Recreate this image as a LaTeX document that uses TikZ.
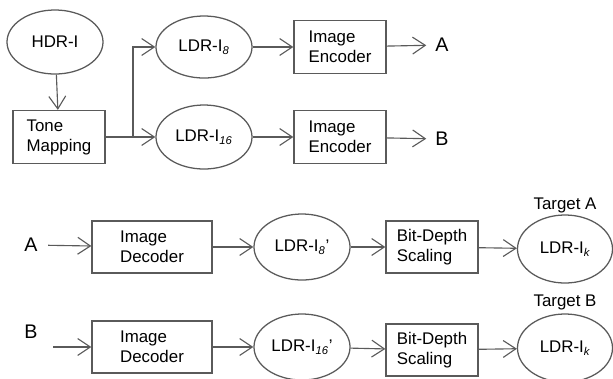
\documentclass[tikz,border=0pt]{standalone}
\usepackage{fontspec}
\setmainfont{Liberation Sans}
\usetikzlibrary{arrows.meta,positioning}
\usetikzlibrary{shapes.geometric}
\definecolor{linegray}{HTML}{5a5a5a}
\tikzset{
    x=0.025cm, y=-0.025cm, % one unit is one pixel of the layout
    >={Straight Barb[length=9pt,width=12pt]}, % open arrow heads
    every node/.style={font=\fontsize{12}{14.2}\selectfont},
    proc/.style={draw=linegray, line width=0.9pt, align=left, minimum width=2.3cm, minimum height=1.325cm, inner sep=2pt},
    img/.style={ellipse, draw=linegray, line width=0.9pt, minimum width=2.4cm, minimum height=1.6cm, inner sep=0pt},
    letter/.style={font=\fontsize{14}{16}\selectfont},
    conn/.style={draw=linegray, line width=0.8pt},
}
\newcommand{\sub}[1]{\textsubscript{\itshape #1}}

\begin{document}
\begin{tikzpicture}
  \useasboundingbox (0,0) rectangle (613,378);

  % encoding side
  \node[img] (hdr) at (55,42) {HDR-I};
  \node[proc] (tm) at (59,137) {Tone\\Mapping};
  \node[img, minimum height=1.55cm] (ldr8) at (204,47) {LDR-I\sub{8}};
  \node[img] (ldr16) at (204,137) {LDR-I\sub{16}};
  \node[proc] (enc8) at (340,47) {Image\\Encoder};
  \node[proc] (enc16) at (340,137) {Image\\Encoder};
  \node[letter] (outA) at (442,45) {A};
  \node[letter] (outB) at (442,139) {B};
  \coordinate (split) at (133,137);

  \path[conn,->]
    (hdr) edge (tm)
    (tm) edge (ldr16)
    (ldr8) edge (enc8)
    (ldr16) edge (enc16)
    (enc8) edge[shorten >=3pt] (outA)
    (enc16) edge[shorten >=3pt] (outB);
  \draw[conn,->] (split) |- (ldr8);

  % decoding side, target A
  \node[letter] (inA) at (31,245) {A};
  \node[proc, minimum width=3cm, minimum height=1.3cm] (dec8) at (152,247) {Image\\Decoder};
  \node[img, minimum height=1.65cm] (rec8) at (302,247) {LDR-I\sub{8}'};
  \node[proc, minimum height=1.3cm] (bd8) at (432,247) {Bit-Depth\\Scaling};
  \node[img, minimum width=2.375cm, minimum height=1.7cm] (tgt8) at (565,249) {LDR-I\sub{k}};
  \node (labA) at (565,205) {Target A};

  % decoding side, target B
  \node[letter] (inB) at (31,332) {B};
  \node[proc, minimum width=3cm, minimum height=1.3cm] (dec16) at (152,347) {Image\\Decoder};
  \node[img, minimum height=1.65cm] (rec16) at (302,347) {LDR-I\sub{16}'};
  \node[proc, minimum height=1.3cm] (bd16) at (432,350) {Bit-Depth\\Scaling};
  \node[img, minimum width=2.375cm, minimum height=1.7cm] (tgt16) at (565,348) {LDR-I\sub{k}};
  \node (labB) at (565,302) {Target B};
  \coordinate (startB) at (53,347);

  \path[conn,->]
    (inA) edge[shorten <=4pt] (dec8)
    (dec8) edge (rec8)
    (rec8) edge (bd8)
    (bd8) edge (tgt8)
    (dec16) edge (rec16)
    (rec16) edge (bd16)
    (bd16) edge (tgt16);
  \draw[conn,->] (startB) -- (dec16);
\end{tikzpicture}
\end{document}
